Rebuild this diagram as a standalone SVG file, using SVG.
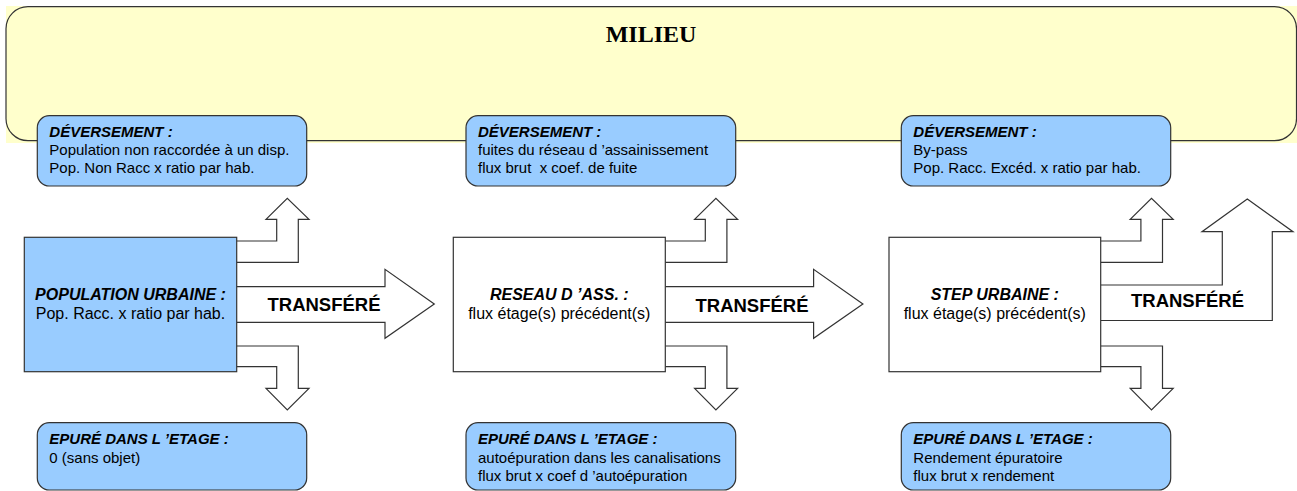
<svg xmlns="http://www.w3.org/2000/svg" width="1297" height="491" viewBox="0 0 1297 491">
  <style>
    .milieu-fill { fill: #FFFFCC; }
    .milieu-border { fill: none; stroke: #333333; stroke-width: 1.2; }
    .note { fill: #99CCFF; stroke: #333333; stroke-width: 1.2; }
    .stage { stroke: #333333; stroke-width: 1.2; }
    .arrow { fill: #FFFFFF; stroke: #333333; stroke-width: 1.2; stroke-linejoin: miter; }
    text { font-family: "Liberation Sans", Arial, sans-serif; fill: #000000; }
    .title { font-family: "Liberation Serif", "Times New Roman", serif; font-weight: bold; font-size: 24px; }
    .head { font-weight: bold; font-style: italic; font-size: 15px; }
    .body { font-size: 15px; white-space: pre; }
    .shead { font-weight: bold; font-style: italic; font-size: 16px; }
    .sbody { font-size: 16px; }
    .flow { font-weight: bold; font-size: 18.5px; }
  </style>

  <!-- Environment band -->
  <g id="milieu">
    <rect class="milieu-fill" x="6" y="6" width="1291" height="137"/>
    <rect class="milieu-border" x="6" y="6.7" width="1290.5" height="134" rx="22" ry="22"/>
    <text class="title" x="651" y="41.7" text-anchor="middle">MILIEU</text>
  </g>

  <!-- Flow arrows between stages -->
  <g id="connectors">
    <!-- stage 1 -->
    <path class="arrow" d="M236.7,241 H276.7 V219.3 H266 L287.3,198.3 L309,219.3 H298.3 V262.3 H236.7"/>
    <path class="arrow" d="M236.7,346 H298.3 V388.3 H309 L287.3,410 L266,388.3 H276.7 V366.7 H236.7"/>
    <path class="arrow" d="M236.7,286.7 H385 V269.3 L434.3,304 L385,338.3 V322.3 H236.7"/>
    <text class="flow" x="324" y="311" text-anchor="middle">TRANSFÉRÉ</text>
    <!-- stage 2 -->
    <g transform="translate(428.6,0)">
      <path class="arrow" d="M236.7,241 H276.7 V219.3 H266 L287.3,198.3 L309,219.3 H298.3 V262.3 H236.7"/>
      <path class="arrow" d="M236.7,346 H298.3 V388.3 H309 L287.3,410 L266,388.3 H276.7 V366.7 H236.7"/>
      <path class="arrow" d="M236.7,286.7 H385 V269.3 L434.3,304 L385,338.3 V322.3 H236.7"/>
    </g>
    <text class="flow" x="752" y="311.5" text-anchor="middle">TRANSFÉRÉ</text>
    <!-- stage 3 -->
    <g transform="translate(864.2,0)">
      <path class="arrow" d="M236.7,241 H276.7 V219.3 H266 L287.3,198.3 L309,219.3 H298.3 V262.3 H236.7"/>
      <path class="arrow" d="M236.7,346 H298.3 V388.3 H309 L287.3,410 L266,388.3 H276.7 V366.7 H236.7"/>
    </g>
    <path class="arrow" d="M1100.7,285 H1222.3 V231.7 H1202 L1247.3,199 L1293,231.7 H1272.3 V320.5 H1100.7"/>
    <text class="flow" x="1187.5" y="306.7" text-anchor="middle">TRANSFÉRÉ</text>
  </g>

  <!-- Stage 1 -->
  <g id="population-urbaine">
    <rect class="stage" x="24.3" y="237.3" width="212.4" height="134.4" fill="#99CCFF"/>
    <text class="shead" x="130.5" y="300" text-anchor="middle">POPULATION URBAINE :</text>
    <text class="sbody" x="130.5" y="319.3" text-anchor="middle">Pop. Racc. x ratio par hab.</text>
  </g>
  <g id="deversement-1">
    <rect class="note" x="37.3" y="115.7" width="269.4" height="70.3" rx="12" ry="12"/>
    <text class="head" x="49.3" y="136.7">DÉVERSEMENT :</text>
    <text class="body" x="49.3" y="155">Population non raccordée à un disp.</text>
    <text class="body" x="49.3" y="172.7">Pop. Non Racc x ratio par hab.</text>
  </g>
  <g id="epure-1">
    <rect class="note" x="37.3" y="422.7" width="269.4" height="67.3" rx="12" ry="12"/>
    <text class="head" x="49.3" y="444.3">EPURÉ DANS L ’ETAGE :</text>
    <text class="body" x="49.3" y="462.5">0 (sans objet)</text>
  </g>

  <!-- Stage 2 -->
  <g id="reseau-assainissement">
    <rect class="stage" x="453.3" y="237.3" width="212" height="134.4" fill="#FFFFFF"/>
    <text class="shead" x="559.3" y="300" text-anchor="middle">RESEAU D ’ASS. :</text>
    <text class="sbody" x="559.3" y="319.3" text-anchor="middle">flux étage(s) précédent(s)</text>
  </g>
  <g id="deversement-2">
    <rect class="note" x="466" y="115.7" width="269.7" height="70.3" rx="12" ry="12"/>
    <text class="head" x="478" y="136.7">DÉVERSEMENT :</text>
    <text class="body" x="478" y="155">fuites du réseau d ’assainissement</text>
    <text class="body" x="478" y="172.7" xml:space="preserve">flux brut  x coef. de fuite</text>
  </g>
  <g id="epure-2">
    <rect class="note" x="466" y="422.7" width="269.7" height="67.3" rx="12" ry="12"/>
    <text class="head" x="478" y="444.3">EPURÉ DANS L ’ETAGE :</text>
    <text class="body" x="478" y="462.7">autoépuration dans les canalisations</text>
    <text class="body" x="478" y="480.7">flux brut x coef d ’autoépuration</text>
  </g>

  <!-- Stage 3 -->
  <g id="step-urbaine">
    <rect class="stage" x="889" y="237.3" width="211.7" height="134.4" fill="#FFFFFF"/>
    <text class="shead" x="994.8" y="300" text-anchor="middle">STEP URBAINE :</text>
    <text class="sbody" x="994.8" y="319.3" text-anchor="middle">flux étage(s) précédent(s)</text>
  </g>
  <g id="deversement-3">
    <rect class="note" x="901.3" y="115.7" width="269.4" height="70.3" rx="12" ry="12"/>
    <text class="head" x="913.3" y="136.7">DÉVERSEMENT :</text>
    <text class="body" x="913.3" y="155">By-pass</text>
    <text class="body" x="913.3" y="172.7">Pop. Racc. Excéd. x ratio par hab.</text>
  </g>
  <g id="epure-3">
    <rect class="note" x="901.3" y="422.7" width="269.4" height="67.3" rx="12" ry="12"/>
    <text class="head" x="913.3" y="444.3">EPURÉ DANS L ’ETAGE :</text>
    <text class="body" x="913.3" y="462.7">Rendement épuratoire</text>
    <text class="body" x="913.3" y="480.7">flux brut x rendement</text>
  </g>
</svg>
